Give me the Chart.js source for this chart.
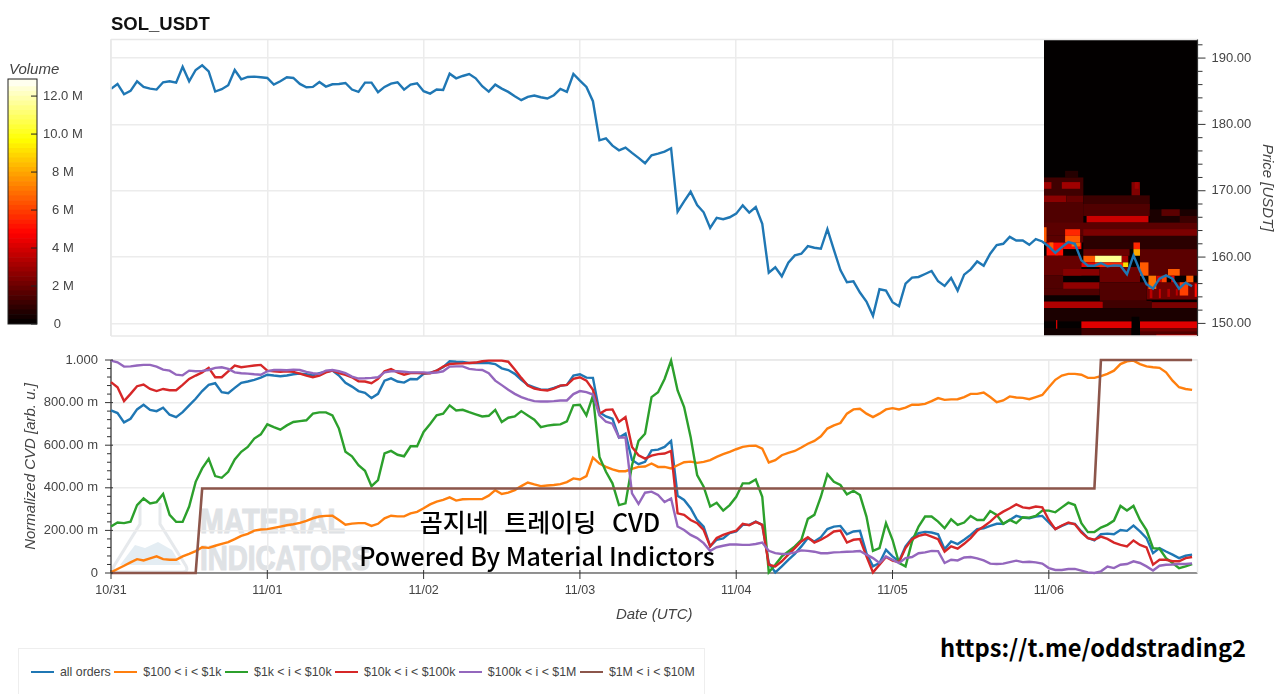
<!DOCTYPE html>
<html>
<head>
<meta charset="utf-8">
<title>SOL_USDT</title>
<script src="https://cdn.jsdelivr.net/npm/chart.js@4"></script>
<style>
  html, body { margin: 0; padding: 0; background: #fff; }
  body { position: relative; width: 1280px; height: 694px; overflow: hidden; font-family: "Liberation Sans", sans-serif; }
  canvas, svg, .abs { position: absolute; }
  #title { left: 111px; top: 13px; font-size: 18.5px; font-weight: bold; color: #111; }
  #vol-title { left: 9px; top: 60px; font-size: 15px; font-style: italic; color: #444; }
  #legend { left: 18px; top: 648px; width: 687px; height: 50px; border: 1px solid #eee; box-sizing: border-box; display: flex; align-items: center; padding: 0 0 2px 8.5px; font-size: 12.35px; color: #444; white-space: nowrap; }
  #legend i { display: inline-block; width: 23px; height: 2.5px; margin: 0 6px 0 3.5px; }
  .ko { font-family: "Noto Sans CJK KR", sans-serif; font-weight: 500; color: #000; white-space: nowrap; transform: translateX(-50%); }
</style>
</head>
<body>
<svg width="1280" height="694" style="left:0;top:0">
  <path d="M140 503 V524 L114 566 Q111 572 118 572 H182 Q189 572 186 566 L160 524 V503" fill="none" stroke="#e6e9ec" stroke-width="3"/>
  <path d="M120 565 L135 545 L145 548 L158 542 L172 550 L181 565 Z" fill="#e4edf3"/>
  <text x="200" y="533" font-family="Liberation Sans" font-weight="bold" font-size="35" fill="#dfe2e5" stroke="#dfe2e5" stroke-width="1.2" textLength="145" lengthAdjust="spacingAndGlyphs">MATERIAL</text>
  <text x="200" y="570" font-family="Liberation Sans" font-weight="bold" font-size="35" fill="#dfe2e5" stroke="#dfe2e5" stroke-width="1.2" textLength="170" lengthAdjust="spacingAndGlyphs">INDICATORS</text>
</svg>
<canvas id="price-chart" width="1280" height="350" style="left:0;top:0"></canvas>
<canvas id="cvd-chart" width="1280" height="274" style="left:0;top:350px"></canvas>
<canvas id="volume-bar" width="110" height="280" style="left:0;top:60px"></canvas>
<div id="title" class="abs">SOL_USDT</div>
<div id="vol-title" class="abs">Volume</div>
<div class="abs ko" style="left:540px;top:503px;font-size:25px;word-spacing:10px">곰지네 트레이딩 CVD</div>
<div class="abs ko" style="left:537px;top:537px;font-size:25px">Powered By Material Indictors</div>
<div class="abs ko" style="left:1093px;top:630px;font-size:23.7px;font-weight:700">https://t.me/oddstrading2</div>
<div id="legend" class="abs"></div>
<script>
const dateLabels = ['10/31', '11/01', '11/02', '11/03', '11/04', '11/05', '11/06'];
const cvdTickLabels = ['0', '200.00 m', '400.00 m', '600.00 m', '800.00 m', '1.000'];
const volumeTicks = [0, 2, 4, 6, 8, 10, 12];
const volumeTickLabels = ['0   ', '2 M', '4 M', '6 M', '8 M', '10.0 M', '12.0 M'];
const seriesNames = ['all orders', '$100 < i < $1k', '$1k < i < $10k', '$10k < i < $100k', '$100k < i < $1M', '$1M < i < $10M'];
const seriesColors = ['#1f77b4', '#ff7f0e', '#2ca02c', '#d62728', '#9467bd', '#8c564b'];

// hourly close, hour 0 = 10/31 00:00 UTC
const priceClose = [
  185.35,186.1,184.55,185.05,186.5,185.65,185.4,185.25,186.35,186.5,
  186.3,188.7,186.5,188.2,188.9,188.0,184.95,185.3,185.9,188.2,
  186.8,187.15,187.2,187.1,187.0,186.0,186.5,187.1,187.0,186.1,
  185.6,185.65,186.4,185.7,186.05,186.1,186.25,185.25,184.9,186.3,
  186.3,184.85,185.65,186.15,186.35,185.25,186.0,186.2,185.0,184.65,
  185.25,185.2,187.65,186.95,187.3,187.6,186.95,185.75,184.95,186.0,
  185.4,184.9,184.25,183.65,184.15,184.35,184.1,183.9,184.4,185.35,
  184.9,187.6,186.6,185.65,183.5,177.6,177.9,176.8,176.1,176.5,
  175.7,174.95,174.15,175.35,175.6,175.9,176.4,166.85,168.4,169.85,
  167.85,166.75,164.4,165.9,165.7,166.0,166.55,167.8,166.7,167.55,
  165.0,157.65,158.45,157.1,159.15,160.25,160.5,161.65,161.4,161.25,
  164.2,161.1,158.05,156.2,156.35,154.65,153.3,151.15,155.15,154.95,
  153.2,152.6,156.0,156.9,157.0,157.45,157.9,156.35,155.65,156.85,
  154.95,157.35,158.15,159.35,158.7,160.5,161.8,162.0,163.05,162.5,
  162.5,161.85,162.7,162.35,161.6,160.65,161.5,162.25,162.0,159.5,
  158.7,158.7,159.1,158.6,158.75,158.7,157.4,160.25,157.9,155.9,
  155.25,156.75,157.25,156.75,155.25,156.15,155.6
];

const cvdAll = [
  .763,.751,.707,.724,.768,.79,.766,.76,.776,.743,
  .732,.755,.787,.818,.854,.883,.891,.849,.844,.869,
  .893,.899,.907,.917,.931,.927,.924,.927,.933,.936,
  .933,.928,.938,.945,.95,.927,.893,.875,.854,.846,
  .821,.841,.903,.914,.899,.894,.911,.91,.935,.94,
  .95,.966,.994,.992,.991,.986,.986,.986,.986,.981,
  .961,.953,.935,.907,.883,.872,.861,.86,.869,.879,
  .883,.927,.933,.917,.916,.755,.735,.724,.636,.654,
  .53,.511,.522,.576,.579,.592,.62,.363,.343,.304,
  .249,.218,.125,.156,.162,.187,.195,.226,.226,.241,
  .226,.047,.003,.031,.062,.09,.125,.164,.148,.168,
  .206,.218,.221,.182,.195,.198,.093,.031,.047,.109,
  .078,.055,.125,.164,.187,.193,.19,.182,.112,.148,
  .136,.156,.179,.206,.21,.221,.231,.231,.249,.268,
  .26,.257,.265,.268,.237,.206,.221,.234,.231,.195,
  .164,.153,.182,.185,.182,.202,.198,.223,.195,.164,
  .093,.117,.101,.086,.07,.081,.086
];
const cvd100to1k = [
  .003,.019,.034,.05,.065,.059,.069,.078,.065,.062,
  .062,.078,.09,.103,.121,.118,.128,.137,.145,.159,
  .174,.184,.199,.204,.206,.212,.218,.224,.229,.235,
  .245,.257,.265,.268,.269,.249,.227,.232,.234,.234,
  .221,.231,.257,.269,.266,.266,.28,.287,.304,.322,
  .335,.343,.355,.34,.346,.347,.347,.347,.363,.389,
  .371,.377,.389,.408,.425,.416,.408,.411,.413,.417,
  .427,.444,.439,.455,.542,.514,.498,.486,.478,.478,
  .489,.498,.5,.514,.498,.498,.491,.506,.52,.523,
  .517,.522,.53,.545,.558,.569,.581,.592,.597,.598,
  .584,.519,.53,.553,.564,.573,.589,.607,.62,.642,
  .678,.693,.704,.748,.768,.771,.748,.732,.748,.768,
  .774,.768,.776,.79,.79,.794,.807,.821,.813,.815,
  .816,.826,.841,.841,.847,.826,.802,.81,.829,.824,
  .822,.816,.826,.836,.872,.907,.927,.935,.935,.931,
  .916,.916,.924,.935,.95,.981,.994,.997,.981,.97,
  .966,.963,.942,.903,.872,.864,.86
];
const cvd1kto10k = [
  .218,.237,.234,.241,.319,.35,.327,.333,.371,.273,
  .24,.24,.312,.428,.491,.536,.455,.447,.475,.533,
  .569,.592,.631,.651,.698,.685,.673,.693,.709,.713,
  .717,.748,.754,.754,.74,.678,.569,.548,.506,.48,
  .408,.436,.561,.573,.555,.548,.595,.595,.662,.70,
  .74,.748,.787,.763,.766,.755,.745,.735,.738,.766,
  .709,.729,.735,.76,.74,.72,.685,.692,.696,.698,
  .712,.787,.79,.74,.833,.545,.475,.421,.319,.327,
  .506,.62,.654,.826,.849,.911,.997,.857,.779,.639,
  .46,.405,.312,.33,.293,.319,.358,.421,.421,.439,
  .358,.003,.039,.078,.101,.125,.156,.254,.273,.358,
  .464,.428,.413,.369,.386,.366,.265,.104,.117,.234,
  .156,.047,.031,.148,.218,.265,.265,.241,.21,.252,
  .226,.237,.268,.249,.249,.291,.273,.231,.249,.234,
  .262,.26,.268,.293,.293,.285,.308,.33,.319,.234,
  .192,.192,.213,.226,.246,.315,.293,.315,.249,.202,
  .117,.114,.07,.047,.023,.031,.042
];
const cvd10kto100k = [
  .896,.872,.807,.841,.877,.885,.864,.854,.864,.858,
  .858,.883,.911,.927,.942,.963,.919,.919,.947,.974,
  .966,.97,.974,.977,.95,.947,.945,.947,.944,.936,
  .927,.919,.927,.942,.95,.938,.93,.919,.9,.899,
  .891,.911,.947,.958,.942,.931,.939,.939,.938,.938,
  .95,.969,.981,.983,.984,.986,.988,.994,.997,.997,
  .997,.992,.955,.916,.88,.866,.86,.857,.866,.88,
  .883,.911,.919,.903,.86,.748,.766,.768,.709,.732,
  .592,.553,.537,.551,.558,.561,.573,.28,.273,.249,
  .234,.202,.125,.164,.179,.19,.199,.231,.224,.24,
  .226,.039,.031,.055,.086,.117,.148,.168,.143,.156,
  .174,.195,.199,.143,.156,.159,.078,.003,.039,.075,
  .058,.051,.117,.159,.174,.182,.171,.159,.1,.125,
  .114,.137,.164,.199,.218,.241,.269,.288,.304,.322,
  .308,.304,.312,.308,.249,.206,.223,.237,.229,.19,
  .164,.156,.171,.16,.143,.132,.125,.153,.132,.12,
  .039,.062,.062,.055,.055,.07,.075
];
const cvd100kto1M = [
  .997,.989,.969,.97,.974,.977,.977,.969,.955,.95,
  .931,.928,.95,.947,.949,.953,.963,.966,.958,.942,
  .938,.936,.933,.931,.947,.953,.953,.952,.955,.953,
  .944,.938,.935,.95,.953,.947,.938,.922,.913,.914,
  .916,.919,.942,.947,.947,.945,.942,.942,.942,.939,
  .941,.947,.969,.97,.97,.958,.955,.953,.938,.903,
  .882,.86,.841,.826,.815,.807,.805,.805,.807,.81,
  .81,.84,.854,.849,.838,.74,.71,.701,.636,.636,
  .374,.324,.377,.382,.366,.333,.35,.218,.202,.179,
  .164,.14,.104,.121,.128,.134,.134,.132,.132,.136,
  .143,.104,.093,.089,.09,.097,.106,.104,.1,.093,
  .093,.097,.098,.1,.101,.103,.086,.07,.047,.078,
  .062,.047,.07,.075,.093,.097,.104,.103,.047,.062,
  .059,.073,.075,.069,.059,.044,.042,.044,.051,.058,
  .051,.053,.05,.044,.023,.014,.014,.019,.019,.011,
  .003,0,.008,.03,.023,.039,.042,.055,.047,.031,
  .012,.034,.039,.04,.042,.042,.045
];
// the big-order series only moves twice, so just its corners
const cvd1Mto10MHours = [0, 13, 14, 151, 152, 166];
const cvd1Mto10M = [0, 0, .397, .397, 1, 1];

// order book heatmap rows: hour from, hour to, price low, price high, volume (M)
const heatCells = [
  [143.26,166.83,148.1,192.8,0.06],
  // upper bands
  [146.5,148.5,172,173,0.7],
  [143.26,149.3,169.3,172,1.2],
  [143.26,144.4,170.3,171.3,3],[146,148.8,170.3,171.3,3],
  [143.26,146.7,168.3,169.3,2.6],[146.7,149.3,168.3,169.3,1.9],
  [143.26,149.3,164,168.3,1.5],
  [149.3,159.5,166.2,169.3,1.1],[149.3,159.5,166.2,168,1.5],
  [156.7,158,169.3,171.3,2.4],[157.2,157.8,170.3,171.3,3],
  [149.8,159.3,165.2,166.2,3.8],
  [159.5,166.83,165.2,167.2,0.5],[161.3,164.1,166.2,167.2,1.7],[164.1,166.83,165.2,166.2,1.1],
  [143.26,166.83,163.2,165.2,1.7],[149.3,166.83,163.2,164.2,2.3],
  [149.3,166.83,161.2,163.2,0.8],[143.26,149.3,162.2,163.2,1.7],
  // around the price line
  [143.26,143.65,162.2,164.5,6.5],
  [146.5,148.8,163.2,164.2,5.5],[146.5,148.8,162.2,163.2,6.5],
  [143.65,146.2,160.2,162.2,5],[144.1,144.7,161.2,162.2,6.5],[145,145.4,159.3,160.2,5.5],
  [146.2,149,161.2,162.2,5],[147.5,148.8,161.6,162.2,7],
  [149.3,156.4,160.2,161.2,2],[158,166.83,157.2,161.2,1.7],
  [157,158,161.2,162.2,5.5],[157,158,160.2,161.2,8],
  [143.26,149,157.2,160.2,1.9],
  [149.3,151.1,159.2,160.2,6.5],[151.1,155.2,159.2,160.2,11.5],[155.2,156.2,159.2,160.2,3],
  [149,151.1,158.5,159.2,4.5],[151.1,155.4,158.5,159.2,5.5],[155.4,156.2,158.2,159.2,9],
  [156.2,157,156.5,158,8],
  [158,159.3,157.2,159.2,6.5],
  [146.2,151.8,157.2,158.2,2.5],[151.8,158,156.2,158.5,2],
  [143.26,146.2,155.2,157.2,1.5],[146.2,151.8,155.2,156.2,2.7],
  // below the line
  [159,166.83,153.6,156.2,2.1],[159.5,159.9,153.8,155.2,3.5],[160.9,161.2,153.8,155.2,3.7],[162.2,162.6,154,155.2,3.3],[163.5,163.8,154.2,155.2,3.5],
  [159.3,160.5,155.2,157.2,7],[160.5,161.3,156.2,157.2,4],[161.3,162.1,156.2,157.2,6],[162.3,164.1,157.2,158.2,6.5],
  [162.8,163.3,156.2,157.2,4.5],[164.1,165.4,154.2,156.2,6],[165.1,166.2,156.2,157.2,6.5],[166.4,166.83,154,156,5],
  [143.26,151.8,154.2,155.2,1.5],[151.8,159,153.4,156.2,1.5],
  [143.26,151.8,153.4,154.2,0.2],
  [143.26,152.3,152.3,153.3,3.3],[152.3,159.8,152.3,153.4,1.2],[159.8,166.83,152.3,153.2,2.3],
  [143.26,166.83,150.3,152.3,0.5],
  [149,157,149.3,150.3,4.2],[158,166.83,149.3,150.3,4.2],
  [143.26,149,148.1,149.3,0.3],[145.1,145.3,149.2,150.5,4],
  [149,156.7,148.1,149.3,1.2],[156.7,157.9,148.1,151,0.06],[158,166.83,148.1,149.3,1.5],[158,166.83,148.8,149.3,2.1],
  [160.5,166.83,148.1,148.3,4.5]
];

const volumeEdges = [
  0,.25,.5,.75,1,1.25,1.5,1.75,2,2.25,2.5,2.75,3,3.25,3.5,3.75,4,4.25,4.5,4.75,5,5.25,5.5,5.75,6,6.25,
  6.5,6.75,7,7.25,7.5,7.75,8,8.25,8.5,8.75,9,9.25,9.5,9.75,10,10.25,10.5,10.75,11,11.25,11.5,11.75,12,12.25,12.5,12.9
];

const fontFamily = '"Liberation Sans", sans-serif';
const hoursPerTick = 24;
const xMax = 166.83;
const toPoints = (vals) => vals.map((y, x) => ({ x, y }));

// matplotlib style "hot" ramp
function hotColor(v) {
  const t = Math.min(1, v / 12.9);
  const r = Math.min(1, t / 0.37), g = Math.min(1, Math.max(0, (t - 0.37) / 0.38)), b = Math.max(0, (t - 0.75) / 0.25);
  return `rgb(${Math.round(r * 255)},${Math.round(g * 255)},${Math.round(b * 255)})`;
}

// bokeh style axis: dark rule with longer major and shorter minor marks
function drawAxisTicks(chart, axisId, edge, majors, minors, out, inner, minorOut) {
  const { ctx, chartArea } = chart;
  const scale = chart.scales[axisId];
  const sign = edge === 'right' || edge === 'bottom' ? 1 : -1;
  const mark = (v, a, b) => {
    const p = scale.getPixelForValue(v);
    const base = edge === 'left' ? chartArea.left : edge === 'right' ? chartArea.right : chartArea.bottom;
    ctx.beginPath();
    if (edge === 'bottom') { ctx.moveTo(p, base - a * sign); ctx.lineTo(p, base + b * sign); }
    else { ctx.moveTo(base - a * sign, p); ctx.lineTo(base + b * sign, p); }
    ctx.stroke();
  };
  ctx.save();
  ctx.strokeStyle = '#333';
  ctx.lineWidth = 1;
  majors.forEach(v => mark(v, inner, out));
  minors.forEach(v => mark(v, 0, minorOut));
  ctx.restore();
}

function drawFrame(chart, darkEdges) {
  const { ctx, chartArea: a } = chart;
  const sides = {
    top: [a.left, a.top, a.right, a.top], bottom: [a.left, a.bottom, a.right, a.bottom],
    left: [a.left, a.top, a.left, a.bottom], right: [a.right, a.top, a.right, a.bottom],
  };
  ctx.save();
  for (const [side, c] of Object.entries(sides)) {
    ctx.strokeStyle = darkEdges.includes(side) ? '#333' : '#e8e8e8';
    ctx.lineWidth = darkEdges.includes(side) ? 1.2 : 1.5;
    ctx.beginPath(); ctx.moveTo(c[0], c[1]); ctx.lineTo(c[2], c[3]); ctx.stroke();
  }
  ctx.restore();
}

// the layout would otherwise reserve room for half a tick label
function noLabelPadding(s) {
  s.paddingTop = 0; s.paddingBottom = 0; s.paddingLeft = 0; s.paddingRight = 0;
}

const gridStyle = { color: '#ececec', lineWidth: 1.5, drawTicks: false };
const axisFont = { family: fontFamily, size: 13 };
const titleFont = { family: fontFamily, size: 15, style: 'italic' };

function renderPrice() {
  const majors = [150, 160, 170, 180, 190];
  const minors = [];
  for (let v = 150; v <= 192; v += 2) if (v % 10) minors.push(v);
  new Chart(document.getElementById('price-chart'), {
    type: 'line',
    data: {
      datasets: [{
        data: toPoints(priceClose), borderColor: seriesColors[0], borderWidth: 2.4,
        pointRadius: 0, tension: 0, clip: false,
      }],
    },
    options: {
      responsive: false, animation: false, events: [],
      layout: { padding: { top: 39.5, bottom: 14, left: 111 } },
      plugins: { legend: { display: false }, tooltip: { enabled: false } },
      scales: {
        x: {
          type: 'linear', min: 0, max: xMax,
          ticks: { display: false, stepSize: hoursPerTick, includeBounds: false },
          grid: gridStyle, border: { display: false },
          afterFit: (s) => { s.height = 0; noLabelPadding(s); },
        },
        y: {
          position: 'right', min: 148.1, max: 192.8,
          ticks: { stepSize: 10, color: '#444', font: axisFont, padding: 14, includeBounds: false, callback: v => v.toFixed(2) },
          grid: gridStyle, border: { display: false },
          title: { display: true, text: 'Price [USDT]', color: '#444', font: titleFont, padding: { top: 4, bottom: 0 } },
          afterFit: (s) => { s.width = 1280 - 1197.5; noLabelPadding(s); },
        },
      },
    },
    plugins: [{
      id: 'heatmap',
      beforeDatasetsDraw(chart) {
        const { ctx, chartArea: a, scales: { x, y } } = chart;
        const left = x.getPixelForValue(heatCells[0][0]);
        ctx.save();
        ctx.beginPath();
        ctx.rect(left, a.top, a.right - left, a.bottom - a.top);
        ctx.clip();
        ctx.filter = 'blur(0.7px)';
        heatCells.forEach(([h0, h1, p0, p1, vol]) => {
          ctx.fillStyle = hotColor(vol);
          const px = x.getPixelForValue(h0), py = y.getPixelForValue(p1);
          ctx.fillRect(px, py, x.getPixelForValue(h1) - px, y.getPixelForValue(p0) - py);
        });
        ctx.restore();
      },
      afterDraw(chart) {
        drawFrame(chart, ['right']);
        drawAxisTicks(chart, 'y', 'right', majors, minors, 8, 0, 5);
      },
    }],
  });
}

function renderCvd() {
  const majors = [0, .2, .4, .6, .8, 1];
  const minors = [];
  for (let i = 1; i < 25; i++) if (i % 5) minors.push(i * .04);
  const lines = [cvdAll, cvd100to1k, cvd1kto10k, cvd10kto100k, cvd100kto1M];
  const datasets = lines.map((vals, i) => ({
    data: toPoints(vals), borderColor: seriesColors[i], borderWidth: 2.4,
    pointRadius: 0, tension: 0, clip: false, order: 6 - i,
  }));
  datasets.push({
    data: cvd1Mto10MHours.map((x, i) => ({ x, y: cvd1Mto10M[i] })), borderColor: seriesColors[5], borderWidth: 2.6,
    pointRadius: 0, tension: 0, clip: false, order: 1,
  });
  new Chart(document.getElementById('cvd-chart'), {
    type: 'line',
    data: { datasets },
    options: {
      responsive: false, animation: false, events: [],
      layout: { padding: { top: 10, right: 82.5 } },
      plugins: { legend: { display: false }, tooltip: { enabled: false } },
      scales: {
        x: {
          type: 'linear', min: 0, max: xMax,
          ticks: {
            stepSize: hoursPerTick, includeBounds: false, autoSkip: false, maxRotation: 0, color: '#444', font: { family: fontFamily, size: 12.5 }, padding: 10,
            callback: v => dateLabels[v / hoursPerTick],
          },
          grid: gridStyle, border: { display: false },
          title: { display: true, text: 'Date (UTC)', color: '#444', font: titleFont, padding: 0 },
          afterFit: (s) => { s.height = 51; noLabelPadding(s); },
        },
        y: {
          min: 0, max: 1,
          ticks: { stepSize: .2, color: '#444', font: axisFont, padding: 13, callback: (v, i) => cvdTickLabels[i] },
          grid: gridStyle, border: { display: false },
          title: { display: true, text: 'Normalized CVD [arb. u.]', color: '#444', font: titleFont, padding: { top: 22, bottom: 0 } },
          afterFit: (s) => { s.width = 111; noLabelPadding(s); },
        },
      },
    },
    plugins: [{
      id: 'cvdAxes',
      beforeDatasetsDraw(chart) {
        drawFrame(chart, ['left', 'bottom']);
      },
      afterDraw(chart) {
        drawAxisTicks(chart, 'y', 'left', majors, minors, 6, 2, 4);
        drawAxisTicks(chart, 'x', 'bottom', dateLabels.map((_, i) => i * hoursPerTick), [], 6, 3, 0);
      },
    }],
  });
}

function renderVolumeBar() {
  const datasets = volumeEdges.slice(1).map((top, i) => ({
    data: [[volumeEdges[i], top]], backgroundColor: hotColor((volumeEdges[i] + top) / 2),
    barPercentage: 1, categoryPercentage: 1, grouped: false,
  }));
  new Chart(document.getElementById('volume-bar'), {
    type: 'bar',
    data: { labels: ['Volume'], datasets },
    options: {
      responsive: false, animation: false, events: [],
      layout: { padding: { top: 19, bottom: 16, left: 8 } },
      plugins: { legend: { display: false }, tooltip: { enabled: false } },
      scales: {
        x: { display: false, stacked: false },
        y: {
          position: 'right', min: 0, max: 12.9, afterBuildTicks: (s) => { s.ticks = volumeTicks.map(value => ({ value })); },
          ticks: { color: '#444', font: axisFont, crossAlign: 'center', padding: 6, callback: (v, i) => volumeTickLabels[i] },
          grid: { display: false, drawTicks: false }, border: { display: false },
          afterFit: (s) => { s.width = 110 - 37; noLabelPadding(s); },
        },
      },
    },
    plugins: [{
      id: 'barFrame',
      afterDraw(chart) {
        const { ctx, chartArea: a, scales: { y } } = chart;
        ctx.save();
        ctx.strokeStyle = '#222';
        ctx.lineWidth = 1;
        ctx.strokeRect(a.left, a.top, a.right - a.left, a.bottom - a.top);
        volumeTicks.forEach(v => {
          const p = y.getPixelForValue(v);
          ctx.beginPath(); ctx.moveTo(a.right - 6, p); ctx.lineTo(a.right, p); ctx.stroke();
        });
        ctx.restore();
      },
    }],
  });
}

function renderLegend() {
  document.getElementById('legend').innerHTML = seriesNames.map((name, i) =>
    `<i style="background:${seriesColors[i]}"></i><span>${name.replace(/</g, '&lt;')}</span>`
  ).join('');
}

renderPrice();
renderCvd();
renderVolumeBar();
renderLegend();
</script>
</body>
</html>
